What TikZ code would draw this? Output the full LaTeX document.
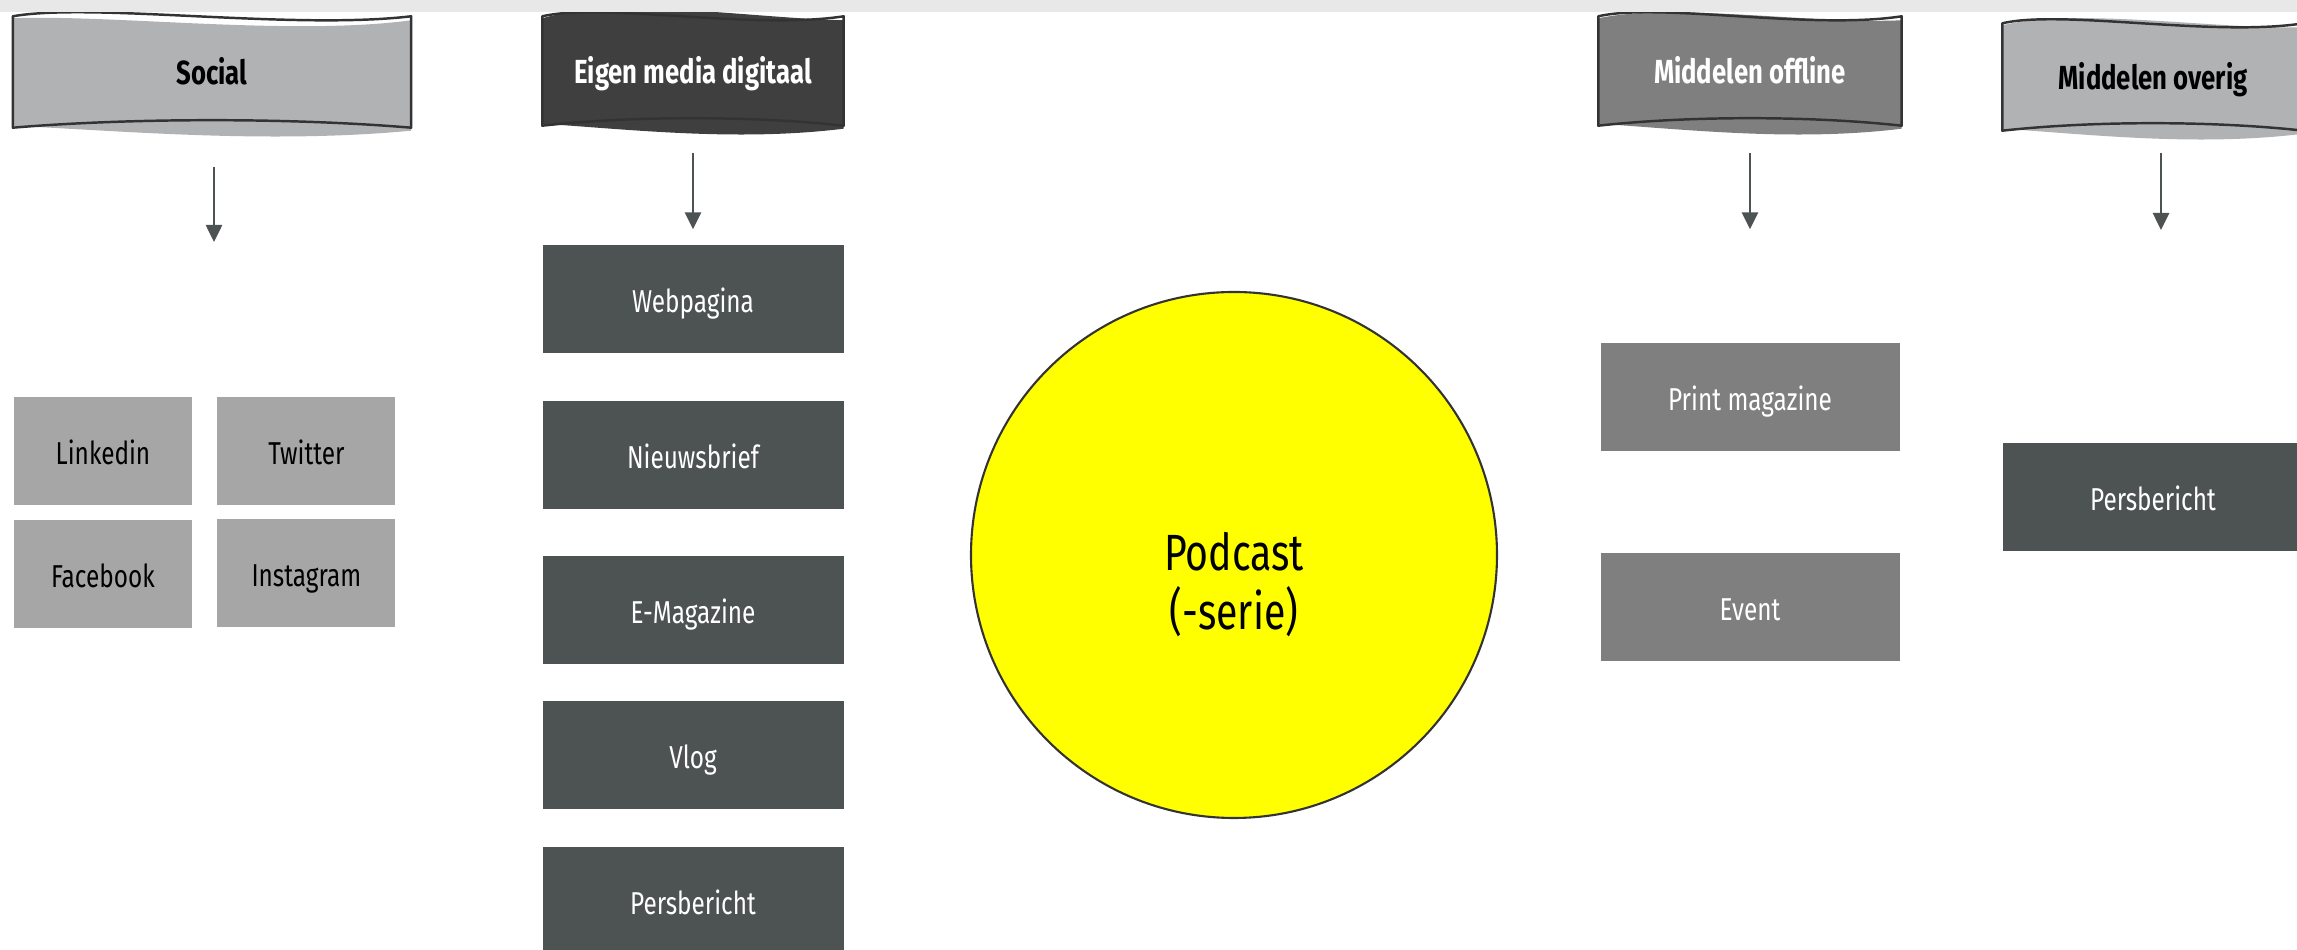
\documentclass[tikz,border=0pt]{standalone}
\usepackage{fontspec}
\setmainfont{Fira Sans}[FakeStretch=0.77]
\usetikzlibrary{arrows.meta,positioning,calc,backgrounds}

\definecolor{stripgray}{HTML}{E8E8E8}
\definecolor{bannerlight}{HTML}{B1B2B4}
\definecolor{bannermid}{HTML}{7F7F7F}
\definecolor{bannerdark}{HTML}{3F3F3F}
\definecolor{tilelight}{HTML}{A6A6A6}
\definecolor{tilemid}{HTML}{7F7F7F}
\definecolor{tiledark}{HTML}{4D5252}
\definecolor{linedark}{HTML}{333333}
\definecolor{arrowgray}{HTML}{4D5252}
\definecolor{podyellow}{HTML}{FFFF00}

% wavy banner behind a header node: name, fill, offset of the fill top
\newcommand{\banner}[3]{%
  \fill[#2] ($(#1.north west)+(0,2)$)
    .. controls ($(#1.north west)!0.25!(#1.north east)+(0,#3-10)$)
            and ($(#1.north west)!0.7!(#1.north east)+(0,#3+12)$)
    .. ($(#1.north east)+(0,4)$)
    -- ($(#1.south east)+(0,3)$)
    .. controls ($(#1.south west)!0.65!(#1.south east)+(0,16)$)
            and ($(#1.south west)!0.3!(#1.south east)+(0,4)$)
    .. ($(#1.south west)+(0,-2)$) -- cycle;
  \draw[bannerline] (#1.north west)
    .. controls ($(#1.north west)!0.2!(#1.north east)+(0,-14)$)
            and ($(#1.north west)!0.7!(#1.north east)+(0,14)$)
    .. (#1.north east)
    -- (#1.south east)
    .. controls ($(#1.south west)!0.7!(#1.south east)+(0,-10)$)
            and ($(#1.south west)!0.3!(#1.south east)+(0,-10)$)
    .. (#1.south west) -- cycle;
}

\begin{document}
\begin{tikzpicture}[x=0.1mm,y=-0.1mm,>={Triangle[width=1.6mm,length=1.7mm]},node distance=2.4mm]
  \tikzstyle{head}=[rectangle,inner sep=0pt,text height=3.2mm,text depth=0.6mm,font=\fontsize{9.5}{11}\selectfont\bfseries]
  \tikzstyle{tile}=[rectangle,inner sep=0pt,minimum height=10.8mm,text height=3.2mm,text depth=0.5mm,font=\fontsize{9}{11}\selectfont]
  \tikzstyle{bannerline}=[draw=linedark,line width=0.7pt,line join=round]
  \tikzstyle{arr}=[->,draw=arrowgray,line width=0.75pt]

  \useasboundingbox (0,0) rectangle (2297,950);
  \fill[stripgray] (0,0) rectangle (2297,12);

  % headers
  \node[head,minimum width=39.7mm,minimum height=11mm]   (social)  at (212,72)  {Social};
  \node[head,minimum width=30mm,minimum height=10.8mm,text=white] (eigen) at (693,71) {Eigen media digitaal};
  \node[head,minimum width=30.2mm,minimum height=10.8mm,text=white] (offline) at (1750,71) {Middelen offline};
  \node[head,minimum width=30mm,minimum height=10.6mm]   (overig)  at (2153,77) {Middelen overig};

  \begin{scope}[on background layer]
    \banner{social}{bannerlight}{8}
    \banner{eigen}{bannerdark}{-10}
    \banner{offline}{bannermid}{-4}
    \banner{overig}{bannerlight}{-6}
  \end{scope}

  % social
  \node[tile,fill=tilelight,minimum width=17.8mm] (linkedin)  at (103,451) {Linkedin};
  \node[tile,fill=tilelight,minimum width=17.8mm] (twitter)   [right=2.4mm of linkedin] {Twitter};
  \node[tile,fill=tilelight,minimum width=17.8mm] (facebook)  [below=1.4mm of linkedin] {Facebook};
  \node[tile,fill=tilelight,minimum width=17.8mm] (instagram) [below=1.3mm of twitter] {Instagram};

  % eigen media digitaal
  \node[tile,fill=tiledark,text=white,minimum width=30.1mm] (webpagina)   at (693,299) {Webpagina};
  \node[tile,fill=tiledark,text=white,minimum width=30.1mm] (nieuwsbrief) [below=4.7mm of webpagina] {Nieuwsbrief};
  \node[tile,fill=tiledark,text=white,minimum width=30.1mm] (emagazine)   [below=4.5mm of nieuwsbrief] {E-Magazine};
  \node[tile,fill=tiledark,text=white,minimum width=30.1mm] (vlog)        [below=3.6mm of emagazine] {Vlog};
  \node[tile,fill=tiledark,text=white,minimum width=30.1mm] (persdigi)    [below=3.6mm of vlog] {Persbericht};

  % podcast
  \node[circle,draw=linedark,fill=podyellow,line width=0.6pt,minimum size=52.6mm,inner sep=0pt,
        font=\fontsize{14.5}{15.5}\selectfont] (podcast) at (1234,555)
        {\raisebox{-4.7mm}[0pt][0pt]{\begin{tabular}{@{}c@{}}Podcast\\(-serie)\end{tabular}}};

  % offline en overig
  \node[tile,fill=tilemid,text=white,minimum width=29.9mm] (print) at (1750,397) {Print magazine};
  \node[tile,fill=tilemid,text=white,minimum width=29.9mm] (event) [below=10.1mm of print] {Event};
  \node[tile,fill=tiledark,text=white,minimum width=30mm] (persoverig) at (2153,497) {Persbericht};

  \coordinate (socialtip) at (214,242);
  \coordinate (overigtip) at (2161,230);

  \draw[arr,shorten <=3.9mm] (social.south -| socialtip) -- (socialtip);
  \path (eigen)   edge[arr,shorten <=2.7mm,shorten >=1.5mm]  (webpagina)
        (offline) edge[arr,shorten <=2.7mm,shorten >=11.3mm] (print);
  \draw[arr,shorten <=2.2mm] (overig.south -| overigtip) -- (overigtip);

\end{tikzpicture}
\end{document}
